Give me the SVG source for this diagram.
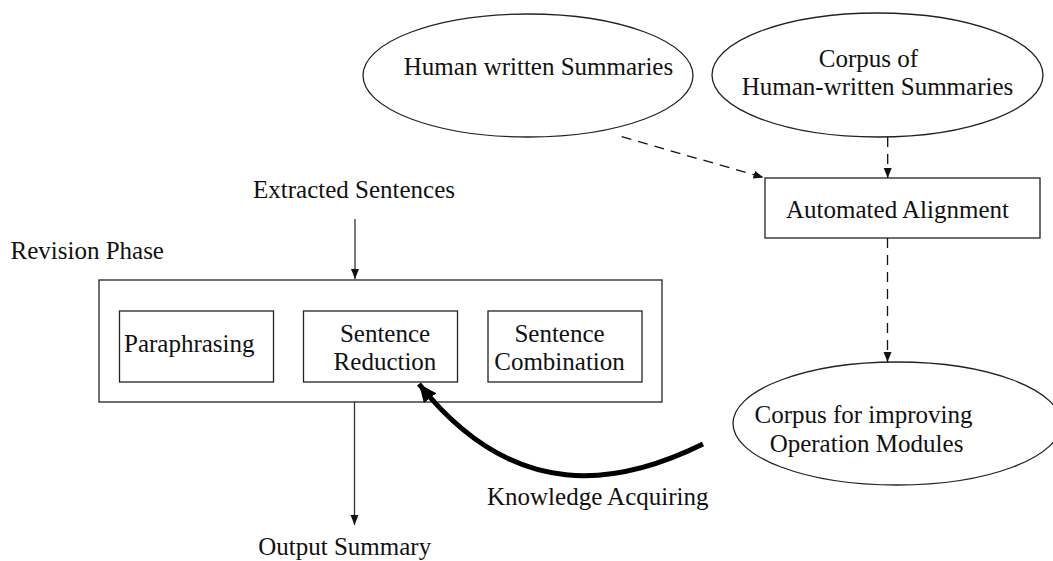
<svg xmlns="http://www.w3.org/2000/svg" width="1053" height="561" viewBox="0 0 1053 561">
  <style>
    .shape { fill: #ffffff; stroke: #222222; stroke-width: 1.3; }
    .lbl { font-family: "Liberation Serif", "Times New Roman", serif; font-size: 25px; fill: #111111; }
    .mid { text-anchor: middle; }
    .solid { fill: none; stroke: #333333; stroke-width: 1.3; }
    .dash { fill: none; stroke: #111111; stroke-width: 1.3; stroke-dasharray: 10 7; }
    .thick { fill: none; stroke: #000000; stroke-width: 5; }
  </style>
  <defs>
    <marker id="tip" markerUnits="userSpaceOnUse" markerWidth="12" markerHeight="10" refX="10" refY="4" orient="auto">
      <path d="M0,0 L10,4 L0,8 Z" fill="#111111"/>
    </marker>
    <marker id="bigtip" markerUnits="userSpaceOnUse" markerWidth="22" markerHeight="20" refX="18" refY="8" orient="auto">
      <path d="M0,0 L18,8 L0,16 Z" fill="#000000"/>
    </marker>
  </defs>

  <rect width="1053" height="561" fill="#ffffff"/>

  <!-- nodes -->
  <g id="human-summaries">
    <ellipse class="shape" cx="528" cy="75.5" rx="165" ry="61.5"/>
    <text class="lbl mid" x="538.5" y="75">Human written Summaries</text>
  </g>

  <g id="corpus-human">
    <ellipse class="shape" cx="877.5" cy="75" rx="165.5" ry="62"/>
    <text class="lbl mid" x="868.5" y="67">Corpus of</text>
    <text class="lbl mid" x="877.5" y="94.5">Human-written Summaries</text>
  </g>

  <g id="alignment">
    <rect class="shape" x="765" y="178" width="275" height="60"/>
    <text class="lbl mid" x="897.5" y="218">Automated Alignment</text>
  </g>

  <g id="corpus-modules">
    <ellipse class="shape" cx="897" cy="423.5" rx="164" ry="61.5"/>
    <text class="lbl mid" x="863.5" y="423">Corpus for improving</text>
    <text class="lbl mid" x="866.5" y="452">Operation Modules</text>
  </g>

  <g id="extracted">
    <text class="lbl mid" x="354" y="198">Extracted Sentences</text>
  </g>

  <g id="revision-phase">
    <text class="lbl" x="10.5" y="259">Revision Phase</text>
    <rect class="shape" x="99" y="280" width="563" height="122"/>
  </g>

  <g id="paraphrasing">
    <rect class="shape" x="119.5" y="311" width="154" height="71"/>
    <text class="lbl" x="124" y="352">Paraphrasing</text>
  </g>

  <g id="reduction">
    <rect class="shape" x="303.5" y="311" width="154" height="71"/>
    <text class="lbl mid" x="385" y="342">Sentence</text>
    <text class="lbl mid" x="385" y="370">Reduction</text>
  </g>

  <g id="combination">
    <rect class="shape" x="488" y="311" width="154" height="71"/>
    <text class="lbl mid" x="559.5" y="342">Sentence</text>
    <text class="lbl mid" x="559.5" y="370">Combination</text>
  </g>

  <g id="output">
    <text class="lbl mid" x="344.7" y="555">Output Summary</text>
  </g>

  <g id="knowledge-label">
    <text class="lbl" x="487" y="505">Knowledge Acquiring</text>
  </g>

  <!-- connectors -->
  <g id="connectors">
    <line class="solid" x1="355" y1="219" x2="355" y2="279" marker-end="url(#tip)"/>
    <line class="solid" x1="354.5" y1="402" x2="354.5" y2="525" marker-end="url(#tip)"/>
    <line class="dash" x1="621.7" y1="136.7" x2="763.5" y2="177.5" marker-end="url(#tip)"/>
    <line class="dash" x1="887.7" y1="137" x2="887.7" y2="178" marker-end="url(#tip)"/>
    <line class="dash" x1="887.5" y1="238" x2="887.5" y2="362" marker-end="url(#tip)"/>
    <path class="thick" d="M703,444 C620,485 515,505 419,384" marker-end="url(#bigtip)"/>
  </g>
</svg>
